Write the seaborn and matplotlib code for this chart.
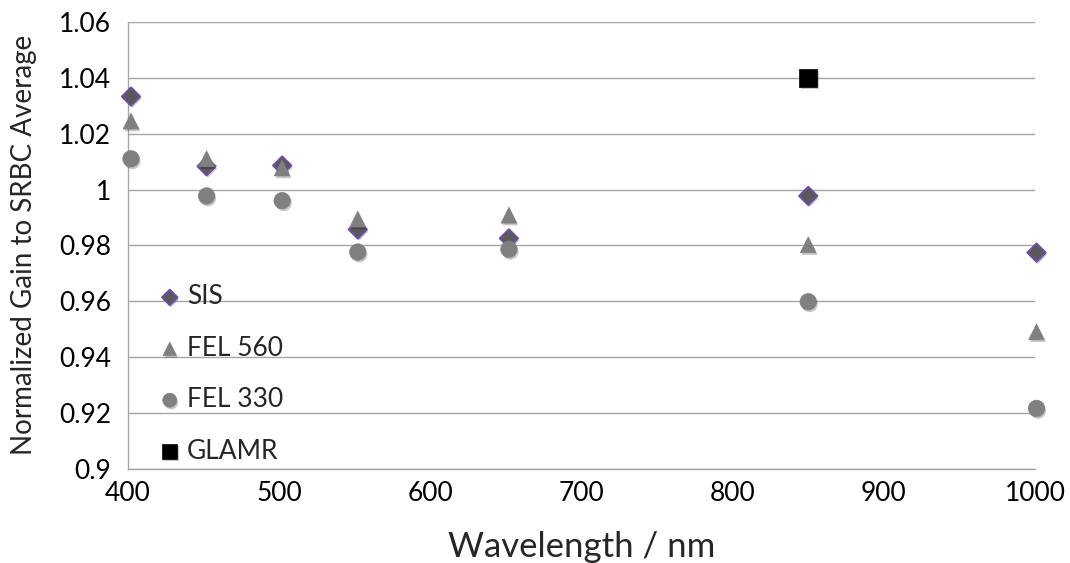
import matplotlib
matplotlib.use("Agg")
import matplotlib.pyplot as plt
import matplotlib.patheffects as pe
import seaborn as sns
import pandas as pd

wavelength = [402, 452, 502, 552, 652, 850, 1001]
sis = [1.0333, 1.0083, 1.0086, 0.9857, 0.9825, 0.9977, 0.9774]
fel560 = [1.0245, 1.0110, 1.0077, 0.9894, 0.9908, 0.9802, 0.9490]
fel330 = [1.0110, 0.9977, 0.9960, 0.9776, 0.9786, 0.9598, 0.9216]
glamr_wavelength = [850]
glamr = [1.0400]

yticks = [0.9, 0.92, 0.94, 0.96, 0.98, 1.0, 1.02, 1.04, 1.06]
ytick_labels = ["0.9", "0.92", "0.94", "0.96", "0.98", "1", "1.02", "1.04", "1.06"]
xticks = [400, 500, 600, 700, 800, 900, 1000]

sns.set_theme(style="white")
plt.rcParams["font.family"] = ["Lato", "DejaVu Sans"]

fig = plt.figure(figsize=(10.7, 5.63), dpi=100)
ax = fig.add_axes([0.1196, 0.1675, 0.8477, 0.7934])

shadow = [pe.SimplePatchShadow(offset=(1.0, -1.6), shadow_rgbFace="#000000", alpha=0.22), pe.Normal()]

series = [
    ("SIS", wavelength, sis, "D", "#595959", "#6A4FA0", 1.5, 85),
    ("FEL 560", wavelength, fel560, "^", "#808080", "#808080", 0.5, 130),
    ("FEL 330", wavelength, fel330, "o", "#808080", "#808080", 0.5, 140),
    ("GLAMR", glamr_wavelength, glamr, "s", "#000000", "#000000", 0.5, 170),
]
for name, xs, ys, mk, fc, ec, lw, sz in series:
    df = pd.DataFrame({"x": xs, "y": ys})
    sns.scatterplot(data=df, x="x", y="y", ax=ax, marker=mk, s=sz, color=fc,
                    edgecolor=ec, linewidth=lw, label=name, zorder=3, clip_on=False)
    ax.collections[-1].set_path_effects(shadow)

ax.set_xlim(400, 1000)
ax.set_ylim(0.9, 1.06)
ax.set_xticks(xticks)
ax.set_xticklabels([str(v) for v in xticks])
ax.set_yticks(yticks)
ax.set_yticklabels(ytick_labels)

ax.yaxis.grid(True, color="#A6A6A6", linewidth=1.0)
ax.xaxis.grid(False)
ax.set_axisbelow(True)
for s in ["top", "right"]:
    ax.spines[s].set_visible(False)
for s in ["left", "bottom"]:
    ax.spines[s].set_color("#A6A6A6")
    ax.spines[s].set_linewidth(1.0)

ax.tick_params(axis="both", which="major", labelsize=19, colors="#A6A6A6",
               labelcolor="#000000", length=8, width=1.0, direction="out")
ax.tick_params(axis="x", pad=1)
ax.tick_params(axis="y", pad=4)

ax.set_xlabel("Wavelength / nm", fontsize=25, labelpad=18)
ax.set_ylabel("Normalized Gain to SRBC Average", fontsize=20, labelpad=16)

leg = ax.legend(loc="lower left", bbox_to_anchor=(0.017, -0.012), frameon=False,
                fontsize=19, labelspacing=1.0, handletextpad=0.05, handlelength=1.2,
                markerscale=0.85, borderaxespad=0)

fig.savefig("out.png", dpi=100)
